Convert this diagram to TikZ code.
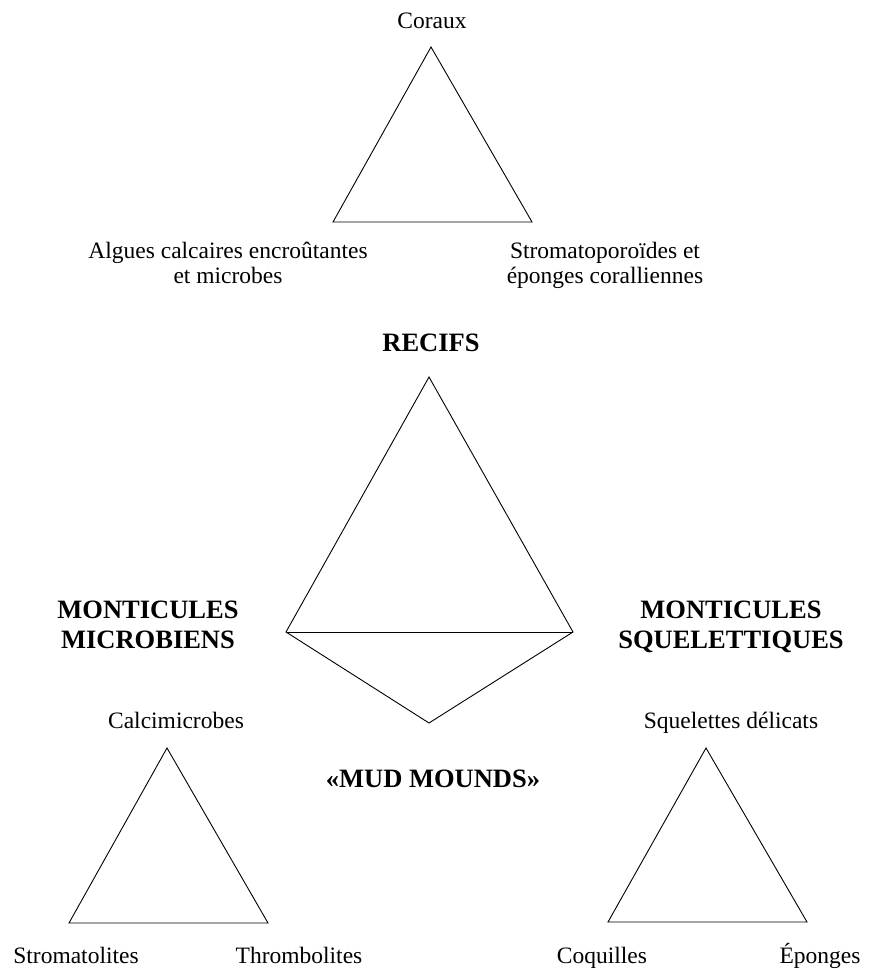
\documentclass[tikz,border=0pt]{standalone}
\usepackage{fontspec}
\setmainfont{Liberation Serif}
\usepackage{tikz}

\begin{document}
\begin{tikzpicture}[
            x=1pt, y=-1pt,
            edge/.style={draw, line width=0.9pt, line join=miter}, % sides of the triangles
            txt/.style={anchor=base, align=center, inner sep=0pt, font=\fontsize{23.5}{25}\selectfont}, % corner names
            bigtxt/.style={anchor=base, align=center, inner sep=0pt, font=\fontsize{26.5}{30}\selectfont\bfseries} % reef types
            ]
        \useasboundingbox (0,0) rectangle (874,969);

                % Top triangle
                \coordinate (cA) at (431,47);
                \coordinate (cB) at (333,222);
                \coordinate (cC) at (532,222);
                \draw[edge] (cA) -- (cB) -- (cC) -- cycle;
                \node[txt] (coraux) at (432,28) {Coraux};
                % base = baseline of the last line
                \node[txt] (algues) at (228,283) {Algues calcaires encroûtantes\\et microbes};
                \node[txt] (stroma) at (605,283) {Stromatoporoïdes et\\éponges coralliennes};

                % Middle shape
                \coordinate (mTop) at (429,377);
                \coordinate (mLeft) at (286,632);
                \coordinate (mRight) at (573,632);
                \coordinate (mBot) at (429,723);
                \draw[edge] (mTop) -- (mLeft) -- (mBot) -- (mRight) -- cycle;
                \draw[edge] (mLeft) -- (mRight);
                \node[bigtxt] (recifs) at (431,351) {RECIFS};
                \node[bigtxt] (microb) at (148,648) {MONTICULES\\MICROBIENS};
                \node[bigtxt] (squel) at (731,648) {MONTICULES\\SQUELETTIQUES};
                \node[bigtxt] (mud) at (433,787) {«MUD MOUNDS»};

                % Bottom left triangle
                \coordinate (lA) at (167,748);
                \coordinate (lB) at (69,923);
                \coordinate (lC) at (268,923);
                \draw[edge] (lA) -- (lB) -- (lC) -- cycle;
                \node[txt] (calci) at (176,728) {Calcimicrobes};
                \node[txt] (stromat) at (76,963) {Stromatolites};
                \node[txt] (thromb) at (299,963) {Thrombolites};

                % Bottom right triangle
                \coordinate (rA) at (706,748);
                \coordinate (rB) at (608,922);
                \coordinate (rC) at (807,922);
                \draw[edge] (rA) -- (rB) -- (rC) -- cycle;
                \node[txt] (delic) at (731,728) {Squelettes délicats};
                \node[txt] (coq) at (602,963) {Coquilles};
                \node[txt] (epon) at (820,963) {Éponges};

            \end{tikzpicture}
\end{document}
